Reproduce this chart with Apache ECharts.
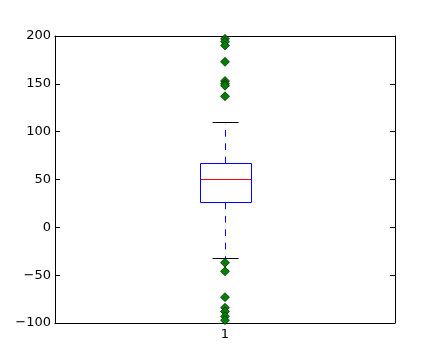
<!DOCTYPE html>
<html>
<head>
<meta charset="utf-8">
<script src="https://cdn.jsdelivr.net/npm/echarts@6/dist/echarts.min.js"></script>
<style>html,body{margin:0;padding:0;background:#fff;}#chart{width:440px;height:360px;}</style>
</head>
<body>
<div id="chart"></div>
<script>
// ---- data ----
var categories = [1];
var categoryLabels = ['1'];
// [min whisker, Q1, median, Q3, max whisker]
var boxStats = [[-32, 26.5, 50, 67, 110]];
var outliersHigh = [197, 194, 190, 173, 153, 150, 148, 137];
var outliersLow = [-37, -46, -73, -84, -88, -93, -97];
var yTicks = [-100, -50, 0, 50, 100, 150, 200];

// ---- build ----
var boxData = boxStats.map(function (s, i) { return [categories[i]].concat(s); });
var outlierData = [];
categories.forEach(function (c) {
  outliersHigh.concat(outliersLow).forEach(function (v) { outlierData.push([c, v]); });
});

var BOX_W = 0.15, CAP_W = 0.075;
function px(v) { return Math.round(v) + 0.5; }

var font = 'DejaVu Sans';
var chart = echarts.init(document.getElementById('chart'), null, { renderer: 'canvas' });
var yCommon = {
  type: 'value', min: yTicks[0], max: yTicks[yTicks.length - 1], interval: 50,
  splitLine: { show: false },
  axisLine: { show: true, lineStyle: { color: '#000', width: 1 } },
  axisTick: { show: true, inside: true, length: 5, lineStyle: { color: '#000' } }
};
var xCommon = {
  type: 'value', min: 0.5, max: 1.5, interval: 0.5,
  splitLine: { show: false },
  axisLine: { show: true, onZero: false, lineStyle: { color: '#000', width: 1 } },
  axisTick: { show: true, inside: true, length: 5, customValues: categories, lineStyle: { color: '#000' } }
};
chart.setOption({
  animation: false,
  grid: { left: 55, right: 45, top: 36, bottom: 37, show: false },
  xAxis: [
    Object.assign({}, xCommon, {
      position: 'bottom',
      axisLabel: {
        customValues: categories, color: '#000', fontFamily: font, fontSize: 13, margin: 5,
        formatter: function (v) { var i = categories.indexOf(v); return i >= 0 ? categoryLabels[i] : ''; }
      }
    }),
    Object.assign({}, xCommon, { position: 'top', axisLabel: { show: false } })
  ],
  yAxis: [
    Object.assign({}, yCommon, {
      position: 'left',
      axisLabel: {
        color: '#000', fontFamily: font, fontSize: 13, margin: 4,
        formatter: function (v) { return String(v).replace('-', '\u2212'); }
      }
    }),
    Object.assign({}, yCommon, { position: 'right', axisLabel: { show: false } })
  ],
  series: [
    {
      type: 'custom',
      data: boxData,
      clip: false,
      z: 2,
      renderItem: function (params, api) {
        var x = api.value(0);
        var lo = api.coord([x, api.value(1)]);
        var q1 = api.coord([x, api.value(2)]);
        var md = api.coord([x, api.value(3)]);
        var q3 = api.coord([x, api.value(4)]);
        var hi = api.coord([x, api.value(5)]);
        var bw = api.size([BOX_W, 0])[0];
        var cw = api.size([CAP_W, 0])[0];
        var cx = px(q1[0]);
        var bl = px(q1[0] - bw / 2), br = px(q1[0] + bw / 2);
        var whisker = { fill: null, stroke: '#0000ff', lineWidth: 1, lineDash: [6.7, 6.7] };
        var cap = { fill: null, stroke: '#000000', lineWidth: 1 };
        return {
          type: 'group',
          children: [
            { type: 'line', shape: { x1: cx, y1: px(q3[1]), x2: cx, y2: px(hi[1]) }, style: whisker },
            { type: 'line', shape: { x1: cx, y1: px(q1[1]), x2: cx, y2: px(lo[1]) }, style: whisker },
            { type: 'line', shape: { x1: px(q1[0] - cw / 2), y1: px(hi[1]), x2: px(q1[0] + cw / 2), y2: px(hi[1]) }, style: cap },
            { type: 'line', shape: { x1: px(q1[0] - cw / 2), y1: px(lo[1]), x2: px(q1[0] + cw / 2), y2: px(lo[1]) }, style: cap },
            { type: 'rect', shape: { x: bl, y: px(q3[1]), width: br - bl, height: px(q1[1]) - px(q3[1]) }, style: { fill: null, stroke: '#0000ff', lineWidth: 1 } },
            { type: 'line', shape: { x1: bl + 0.5, y1: px(md[1]), x2: br - 0.5, y2: px(md[1]) }, style: { fill: null, stroke: '#ff0000', lineWidth: 1 } }
          ]
        };
      }
    },
    {
      type: 'scatter',
      data: outlierData,
      symbol: 'diamond',
      symbolSize: 9,
      clip: false,
      z: 3,
      itemStyle: { color: '#008000', borderColor: '#000', borderWidth: 0.6, opacity: 1 }
    }
  ]
});
</script>
</body>
</html>
